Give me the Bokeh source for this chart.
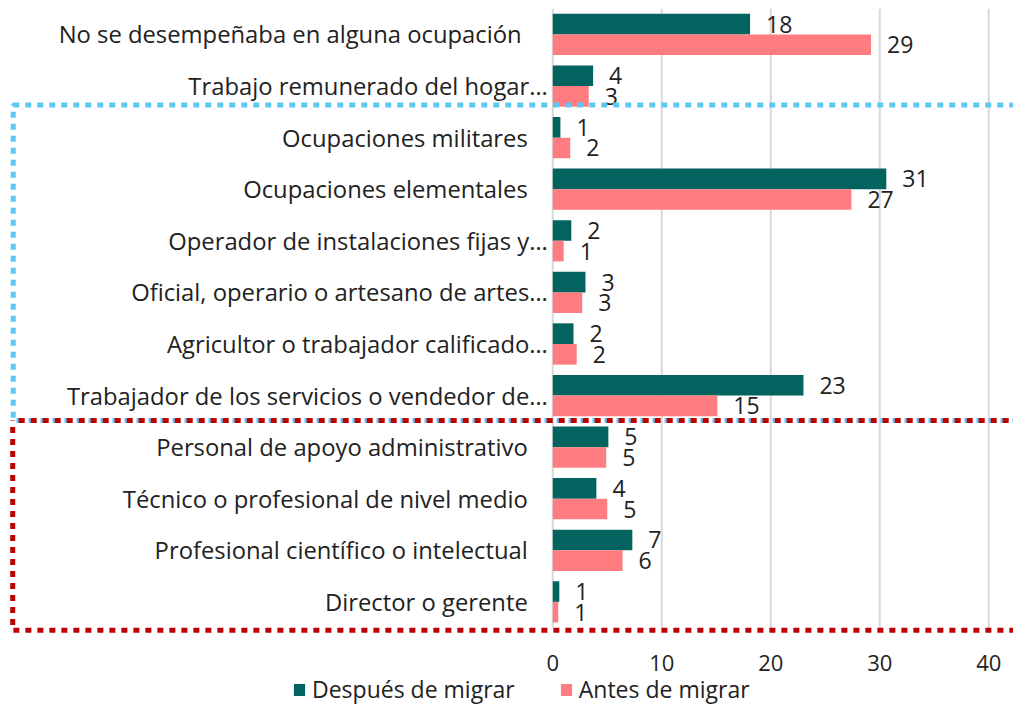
from bokeh.plotting import figure
from bokeh.models import Range1d, Legend, LegendItem, ColumnDataSource
from bokeh.core.properties import value
from bokeh.embed import file_html
from bokeh.resources import INLINE

# ---------------- data ----------------
categories = [
    "No se desempeñaba  en alguna ocupación",
    "Trabajo remunerado del hogar…",
    "Ocupaciones militares",
    "Ocupaciones elementales",
    "Operador de instalaciones fijas y…",
    "Oficial, operario o artesano de artes…",
    "Agricultor o trabajador calificado…",
    "Trabajador de los servicios o vendedor de…",
    "Personal de apoyo administrativo",
    "Técnico o profesional de nivel medio",
    "Profesional científico o intelectual",
    "Director o gerente",
]
despues = [18.1, 3.7, 0.7, 30.6, 1.7, 3.0, 1.9, 23.0, 5.1, 4.0, 7.3, 0.6]
antes = [29.2, 3.3, 1.6, 27.4, 1.0, 2.7, 2.2, 15.1, 4.9, 5.0, 6.4, 0.5]
despues_labels = ["18", "4", "1", "31", "2", "3", "2", "23", "5", "4", "7", "1"]
antes_labels = ["29", "3", "2", "27", "1", "3", "2", "15", "5", "5", "6", "1"]
x_ticks = [0, 10, 20, 30, 40]
x_tick_labels = ["0", "10", "20", "30", "40"]
series_names = ["Después de migrar", "Antes de migrar"]

# ---------------- style ----------------
TEAL = "#03635F"
SALMON = "#FF7C80"
BLUE_DOT = "#5EC8F4"
RED_DOT = "#C00000"
GRID = "#D9D9D9"
TXT = "#222222"
FONT = value("Open Sans")

n = len(categories)
idx = list(range(n))
src = ColumnDataSource(dict(
    cat=categories,
    y=idx,
    y_after=[i - 0.2 for i in idx],
    y_before=[i + 0.2 for i in idx],
    despues=despues,
    antes=antes,
    dl=despues_labels,
    al=antes_labels,
    zero=[0] * n,
    cat_off=[-5 if c.endswith("…") else -25 for c in categories],
))

p = figure(frame_width=1013, frame_height=710,
           x_range=Range1d(-50.67, 42.27), y_range=Range1d(13.106, -0.659),
           output_backend="svg", toolbar_location=None, min_border=0,
           x_axis_location=None, y_axis_location=None)
p.outline_line_color = None
p.xgrid.visible = False
p.ygrid.visible = False
p.background_fill_color = "white"
p.border_fill_color = "white"

# gridlines (vertical)
p.segment(x0=x_ticks, x1=x_ticks, y0=[-0.5] * len(x_ticks), y1=[n - 0.5] * len(x_ticks),
          line_color=GRID, line_width=2)

# bars
r1 = p.hbar(y="y_after", right="despues", left=0, height=0.4, source=src,
            fill_color=TEAL, line_color=None)
r2 = p.hbar(y="y_before", right="antes", left=0, height=0.4, source=src,
            fill_color=SALMON, line_color=None)

# value labels
p.text(x="despues", y="y_after", text="dl", source=src, x_offset=16,
       text_baseline="middle", text_align="left", text_font=FONT,
       text_font_size="23px", text_color=TXT)
p.text(x="antes", y="y_before", text="al", source=src, x_offset=16,
       text_baseline="middle", text_align="left", text_font=FONT,
       text_font_size="23px", text_color=TXT)

# category labels
p.text(x="zero", y="y", text="cat", source=src, x_offset="cat_off",
       text_baseline="middle", text_align="right", text_font=FONT,
       text_font_size="23.8px", text_color=TXT)

# x tick labels (value axis)
p.text(x=x_ticks, y=[n + 0.19] * len(x_ticks), text=x_tick_labels,
       text_baseline="middle", text_align="center", text_font=FONT,
       text_font_size="22px", text_color=TXT)

# dotted group boxes
p.quad(left=[-49.5], right=[46], top=[1.367], bottom=[7.483], fill_color=None,
       line_color=BLUE_DOT, line_width=5, line_dash="6 6")
p.quad(left=[-49.55], right=[46], top=[7.483], bottom=[11.55], fill_color=None,
       line_color=RED_DOT, line_width=5, line_dash="6 6", line_dash_offset=6)

legend = Legend(items=[LegendItem(label=series_names[0], renderers=[r1]),
                       LegendItem(label=series_names[1], renderers=[r2])],
                orientation="horizontal", location=(292, 5),
                glyph_width=14, glyph_height=15, label_standoff=6, spacing=44,
                label_height=20,
                label_text_font="Open Sans", label_text_font_size="23px",
                label_text_color=TXT, border_line_color=None,
                background_fill_alpha=0, padding=0, margin=0)
p.add_layout(legend)

open("out.html", "w").write(file_html(p, INLINE))
